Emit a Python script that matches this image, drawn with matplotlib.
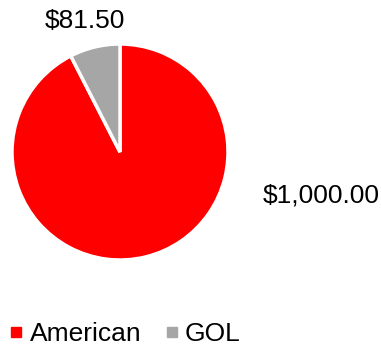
import matplotlib
matplotlib.use("Agg")
import matplotlib.pyplot as plt
from matplotlib.lines import Line2D

plt.rcParams['font.family'] = ['Liberation Sans', 'DejaVu Sans']

categories = ["American", "GOL"]
values = [1000.00, 81.50]
value_labels = ["$1,000.00", "$81.50"]
colors = ["#FF0000", "#A6A6A6"]

W, H = 381, 347
fig = plt.figure(figsize=(W / 100, H / 100), dpi=100)

cx, cy, r = 120, 152, 108
ax = fig.add_axes([(cx - r) / W, (H - cy - r) / H, 2 * r / W, 2 * r / H])
ax.pie(values, colors=colors, startangle=90, counterclock=False, radius=1,
       wedgeprops=dict(edgecolor="white", linewidth=2.5))
ax.set_xlim(-1, 1)
ax.set_ylim(-1, 1)
ax.set_aspect("equal")
ax.axis("off")

fs = 19
fig.text(321 / W, 1 - 195 / H, value_labels[0], ha="center", va="center", fontsize=fs)
fig.text(85 / W, 1 - 21 / H, value_labels[1], ha="center", va="center", fontsize=fs)

handles = [Line2D([], [], marker="s", linestyle="none", markersize=6.5,
                  markerfacecolor=c, markeredgecolor=c) for c in colors]
fig.legend(handles, categories, loc="center left", bbox_to_anchor=(8.5 / W, 1 - 334 / H),
           ncol=2, frameon=False, fontsize=fs, handlelength=0.6, handletextpad=0.2,
           columnspacing=0.85, borderpad=0, borderaxespad=0)

fig.savefig("out.png", dpi=100)
